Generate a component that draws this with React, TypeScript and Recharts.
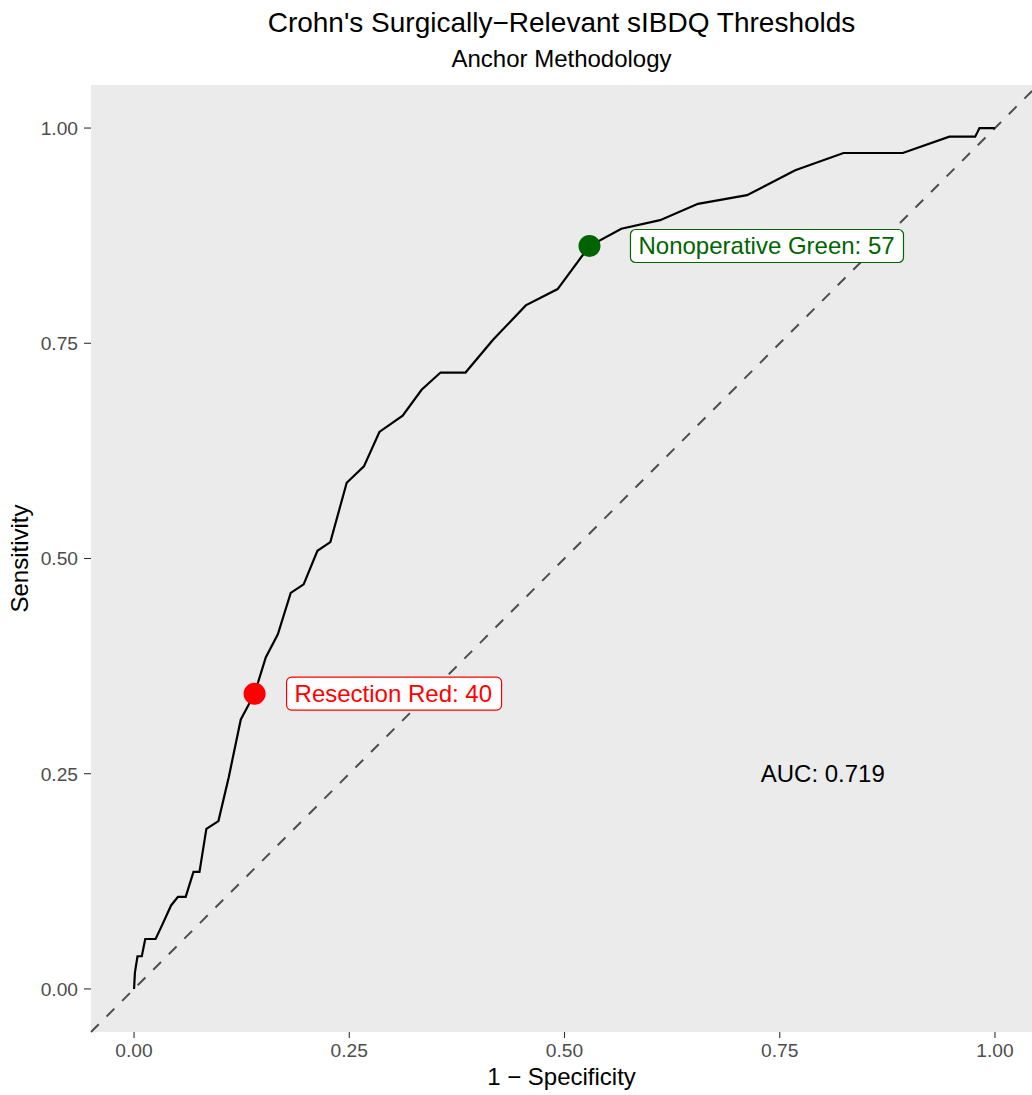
import React from "react";
import { ComposedChart, Line, Scatter, XAxis, YAxis, CartesianGrid, ReferenceLine } from "recharts";

// ROC curve (1 - specificity, sensitivity)
const fpr = [
  0, 0.001, 0.004, 0.009, 0.013, 0.025, 0.033, 0.043, 0.051, 0.06, 0.069, 0.076, 0.084, 0.098, 0.11, 0.124,
  0.14, 0.153, 0.167, 0.182, 0.197, 0.213, 0.228, 0.247, 0.267, 0.285, 0.312, 0.334, 0.356, 0.385, 0.417,
  0.455, 0.492, 0.529, 0.566, 0.611, 0.655, 0.712, 0.768, 0.824, 0.893, 0.947, 0.977, 0.982, 1,
];
const tpr = [
  0, 0.019, 0.038, 0.038, 0.058, 0.058, 0.075, 0.097, 0.107, 0.107, 0.136, 0.136, 0.186, 0.195, 0.246, 0.313,
  0.343, 0.385, 0.412, 0.46, 0.47, 0.509, 0.519, 0.588, 0.607, 0.647, 0.666, 0.696, 0.716, 0.716, 0.754,
  0.794, 0.813, 0.863, 0.883, 0.893, 0.912, 0.922, 0.951, 0.971, 0.971, 0.99, 0.99, 1, 1,
];

// thresholds marked on the curve
const thresholdNames = ["Resection Red: 40", "Nonoperative Green: 57"];
const thresholdFpr = [0.14, 0.529];
const thresholdTpr = [0.343, 0.863];
const thresholdColors = ["#FF0000", "#006400"];

const aucText = "AUC: 0.719";
const aucPos = { x: 0.8, y: 0.25 };

const ticks = [0, 0.25, 0.5, 0.75, 1];

const rocData = fpr.map((x, i) => ({ x, y: tpr[i] }));
const thresholdData = thresholdNames.map((name, i) => ({
  x: thresholdFpr[i],
  y: thresholdTpr[i],
  name,
  color: thresholdColors[i],
}));

const boxWidths = [215, 273];
const boxGaps = [32, 41];

const font = "'Liberation Sans', Arial, sans-serif";

function ThresholdShape(props: any) {
  const { cx, cy, payload, index } = props;
  const i = thresholdNames.indexOf(payload.name);
  const w = boxWidths[i] ?? 220;
  const bx = cx + (boxGaps[i] ?? 35);
  return (
    <g key={index}>
      <circle cx={cx} cy={cy} r={11} fill={payload.color} />
      <rect x={bx} y={cy - 16.5} width={w} height={33} rx={5} ry={5} fill="#FFFFFF" stroke={payload.color} strokeWidth={1.2} />
      <text x={bx + 8} y={cy + 8.5} fontSize={24} fill={payload.color} fontFamily={font}>
        {payload.name}
      </text>
    </g>
  );
}

function AucShape(props: any) {
  const { cx, cy } = props;
  return (
    <text x={cx} y={cy + 8.5} textAnchor="middle" fontSize={24} fill="#000000" fontFamily={font}>
      {aucText}
    </text>
  );
}

export default function App() {
  return (
    <div style={{ position: "absolute", left: 0, top: 0, width: 1032, height: 1095, background: "#fff", fontFamily: font }}>
      <div style={{ position: "absolute", left: 91, width: 941, top: 8, textAlign: "center", fontSize: 28, lineHeight: "29px", color: "#000" }}>
        Crohn's Surgically−Relevant sIBDQ Thresholds
      </div>
      <div style={{ position: "absolute", left: 91, width: 941, top: 47, textAlign: "center", fontSize: 24, lineHeight: "24px", color: "#000" }}>
        Anchor Methodology
      </div>
      <div style={{ position: "absolute", left: 0, top: 0 }}>
        <ComposedChart width={1032} height={1095} margin={{ top: 85, right: 0, bottom: 0, left: 0 }}>
          <CartesianGrid fill="#EBEBEB" horizontal={false} vertical={false} />
          <XAxis
            type="number"
            dataKey="x"
            domain={[-0.05, 1.043]}
            allowDataOverflow
            ticks={ticks}
            tickFormatter={(v: number) => v.toFixed(2)}
            height={63}
            axisLine={false}
            tickSize={6}
            tickMargin={5}
            tickLine={{ stroke: "#333333", strokeWidth: 1.1 }}
            tick={{ fill: "#4D4D4D", fontSize: 19.2, fontFamily: font }}
            label={{ value: "1 − Specificity", position: "insideBottom", offset: 10, fill: "#000", fontSize: 24, fontFamily: font }}
          />
          <YAxis
            type="number"
            dataKey="y"
            domain={[-0.05, 1.05]}
            allowDataOverflow
            ticks={ticks}
            tickFormatter={(v: number) => v.toFixed(2)}
            width={91}
            axisLine={false}
            tickSize={7}
            tickMargin={6}
            tickLine={{ stroke: "#333333", strokeWidth: 1.1 }}
            tick={{ fill: "#4D4D4D", fontSize: 19.2, fontFamily: font }}
            label={{
              content: () => (
                <text x={28} y={558.5} transform="rotate(-90 28 558.5)" textAnchor="middle" fontSize={24} fill="#000" fontFamily={font}>
                  Sensitivity
                </text>
              ),
            }}
          />
          <ReferenceLine
            segment={[
              { x: -0.05, y: -0.05 },
              { x: 1.043, y: 1.043 },
            ]}
            stroke="#4D4D4D"
            strokeWidth={2}
            strokeDasharray="11 11"
          />
          <Line data={rocData} dataKey="y" type="linear" stroke="#000000" strokeWidth={2.2} dot={false} isAnimationActive={false} />
          <Scatter data={thresholdData} shape={ThresholdShape} isAnimationActive={false} />
          <Scatter data={[aucPos]} shape={AucShape} isAnimationActive={false} />
        </ComposedChart>
      </div>
    </div>
  );
}
